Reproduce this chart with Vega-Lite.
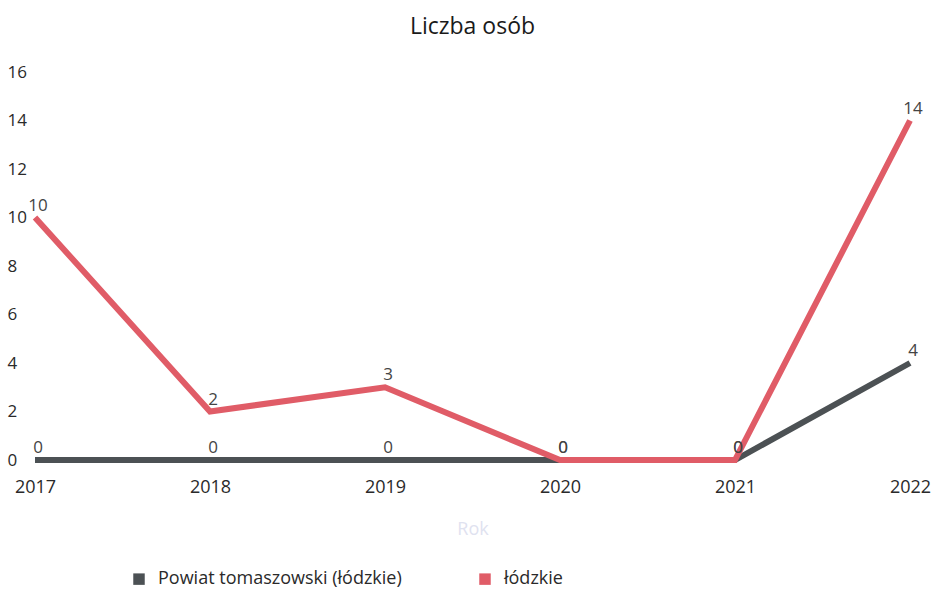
{
  "$schema": "https://vega.github.io/schema/vega-lite/v6.json",
  "autosize": {"type": "none"},
  "width": 875,
  "height": 388,
  "padding": {"left": 35, "top": 72, "right": 25, "bottom": 135},
  "background": "white",
  "config": {
    "view": {"stroke": null},
    "font": "Open Sans",
    "axis": {"grid": false, "domain": false, "ticks": false}
  },
  "title": {"text": "Liczba osób", "fontSize": 23, "fontWeight": "normal", "color": "#1a1a1a", "offset": 24, "font": "Open Sans"},
  "data": {
    "values": [
      {"Rok": "2017", "seria": "Powiat tomaszowski (łódzkie)", "wartosc": 0},
      {"Rok": "2018", "seria": "Powiat tomaszowski (łódzkie)", "wartosc": 0},
      {"Rok": "2019", "seria": "Powiat tomaszowski (łódzkie)", "wartosc": 0},
      {"Rok": "2020", "seria": "Powiat tomaszowski (łódzkie)", "wartosc": 0},
      {"Rok": "2021", "seria": "Powiat tomaszowski (łódzkie)", "wartosc": 0},
      {"Rok": "2022", "seria": "Powiat tomaszowski (łódzkie)", "wartosc": 4},
      {"Rok": "2017", "seria": "łódzkie", "wartosc": 10},
      {"Rok": "2018", "seria": "łódzkie", "wartosc": 2},
      {"Rok": "2019", "seria": "łódzkie", "wartosc": 3},
      {"Rok": "2020", "seria": "łódzkie", "wartosc": 0},
      {"Rok": "2021", "seria": "łódzkie", "wartosc": 0},
      {"Rok": "2022", "seria": "łódzkie", "wartosc": 14}
    ]
  },
  "encoding": {
    "x": {
      "field": "Rok", "type": "ordinal",
      "scale": {"type": "point", "padding": 0},
      "axis": {"labelAngle": 0, "labelFontSize": 18, "labelColor": "#2a2a2a", "labelPadding": 18, "title": "Rok", "titleFontSize": 18, "titleFontWeight": "normal", "titleColor": "#dfe2f0", "titlePadding": 24}
    },
    "y": {
      "field": "wartosc", "type": "quantitative",
      "scale": {"domain": [0, 16], "nice": false},
      "axis": {"values": [0, 2, 4, 6, 8, 10, 12, 14, 16], "labelFontSize": 17, "labelColor": "#2a2a2a", "labelAlign": "left", "labelPadding": 28, "title": null}
    },
    "color": {
      "field": "seria", "type": "nominal",
      "scale": {"domain": ["Powiat tomaszowski (łódzkie)", "łódzkie"], "range": ["#4c5154", "#e05c67"]},
      "legend": {"title": null, "orient": "none", "legendX": 95, "legendY": 498, "direction": "horizontal", "symbolType": "square", "symbolSize": 30, "symbolStrokeWidth": 6, "labelFontSize": 18, "labelColor": "#2a2a2a", "labelLimit": 400, "labelOffset": 10, "columnPadding": 68}
    }
  },
  "layer": [
    {
      "mark": {"type": "line", "strokeWidth": 6, "clip": false}
    },
    {
      "mark": {"type": "text", "dy": -12, "dx": 3, "fontSize": 17, "clip": false},
      "encoding": {"text": {"field": "wartosc", "type": "quantitative"}, "color": {"value": "#444"}}
    }
  ]
}
